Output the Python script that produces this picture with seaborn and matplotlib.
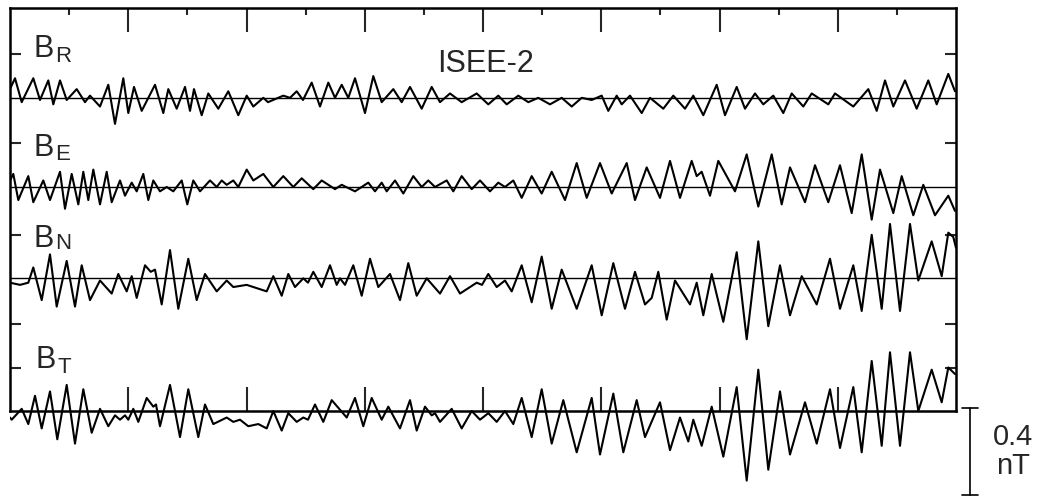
   #import libraries.
import numpy as np
import pandas as pd
import seaborn as sns
import matplotlib.pyplot as plt

sns.set_style('white')
plt.rcParams['font.family'] = ['Liberation Sans', 'DejaVu Sans']

   #wave readings (time in s, field in nT) - peaks and troughs.
b_r = [(0, 0.04), (5, 0.09), (11.7, -0.02), (23.3, 0.09), (30, -0.01), (38.3, 0.08), (43.3, -0.03),
       (50, 0.08), (56.7, -0.01), (66.7, 0.04), (75, -0.02), (80, 0.01), (90, -0.04), (98.3, 0.06),
       (105, -0.12), (113.3, 0.09), (118.3, -0.07), (124, 0.05), (131.7, -0.06), (145, 0.06),
       (153.3, -0.07), (158.3, 0.04), (166.7, -0.05), (175, 0.05), (180, -0.06), (184, 0.04),
       (191.7, -0.08), (198.3, 0.02), (208.3, -0.05), (218.3, 0.03), (228.3, -0.08), (236.7, 0.01),
       (243.3, -0.04), (253.3, 0.0), (258, -0.02), (273.3, 0.01), (280, 0.0), (286.7, 0.03),
       (293, -0.01), (301.7, 0.07), (310, -0.04), (318.3, 0.07), (325, 0.0), (331.7, 0.06),
       (338.3, 0.0), (345, 0.09), (355, -0.07), (363.3, 0.10), (371.7, -0.02), (383.3, 0.04),
       (391.7, -0.02), (400, 0.05), (411.7, -0.05), (421.7, 0.05), (430, -0.02), (440, 0.02),
       (451.7, -0.02), (466.7, 0.02), (478.3, -0.03), (488.3, 0.01), (496.7, -0.03), (508.3, 0.01),
       (518.3, -0.02), (528.3, 0.0), (540, -0.03), (551.7, 0.0), (561.7, -0.04), (571.7, 0.0),
       (581.7, -0.01), (591.7, 0.01), (598.3, -0.06), (606.7, 0.01), (611.7, -0.03), (620, 0.01),
       (631.7, -0.07), (640, 0.0), (653.3, -0.05), (663.3, 0.01), (675, -0.05), (683.3, 0.01),
       (693.3, -0.08), (706.7, 0.06), (715, -0.08), (726.7, 0.05), (735, -0.05), (745, 0.02),
       (753.3, -0.03), (763.3, 0.01), (773.3, -0.07), (781.7, 0.02), (793.3, -0.04), (801.7, 0.02),
       (818.3, -0.03), (825, 0.02), (843.3, -0.04), (858.3, 0.04), (866.7, -0.06), (875, 0.08),
       (883.3, -0.04), (895, 0.08), (906.7, -0.05), (918.3, 0.08), (926.7, -0.03), (938.3, 0.11),
       (945, 0.03)]

b_e = [(0, 0.03), (3.3, 0.06), (8.3, -0.06), (18.3, 0.05), (23.3, -0.07), (33.3, 0.03), (40, -0.06),
       (50, 0.07), (55, -0.10), (61.7, 0.06), (68.3, -0.08), (73.3, 0.07), (78.3, -0.06), (83.3, 0.08),
       (90, -0.08), (96.7, 0.07), (101.7, -0.07), (110, 0.03), (115, -0.04), (121.7, 0.02),
       (126.7, -0.02), (133.3, 0.06), (138.3, -0.06), (143.3, 0.03), (150, -0.02), (156.7, 0.0),
       (163.3, -0.02), (171.7, 0.03), (177.3, -0.08), (183.3, 0.03), (190, -0.02), (200, 0.03),
       (206.7, 0.0), (211.7, 0.03), (216.7, 0.01), (223.3, 0.03), (228.3, 0.0), (236.7, 0.08),
       (243.3, 0.03), (253.3, 0.06), (263.3, 0.0), (273.3, 0.05), (283.3, 0.0), (291.7, 0.04),
       (303.3, -0.01), (311.7, 0.03), (325, -0.01), (331.7, 0.01), (345, -0.02), (358.3, 0.02),
       (365, -0.02), (371.7, 0.02), (376.7, -0.02), (385, 0.03), (393.3, -0.03), (403.3, 0.05),
       (411.7, 0.0), (418.3, 0.03), (425, 0.0), (436.7, 0.03), (443.3, -0.02), (451.7, 0.05),
       (461.7, -0.01), (470, 0.03), (480, -0.02), (488.3, 0.02), (495, 0.0), (503.3, 0.03),
       (511.7, -0.05), (521.7, 0.05), (531.7, -0.03), (541.7, 0.07), (555, -0.06), (566.7, 0.11),
       (576.7, -0.05), (590, 0.11), (601.7, -0.03), (616.7, 0.11), (625, -0.06), (636.7, 0.09),
       (650, -0.05), (660, 0.12), (670, -0.05), (681.7, 0.12), (686.7, 0.05), (691.7, 0.07),
       (700, -0.04), (708.3, 0.12), (725, -0.02), (736.7, 0.15), (748.3, -0.09), (761.7, 0.15),
       (771.7, -0.08), (780, 0.09), (795, -0.07), (805, 0.10), (818.3, -0.07), (830, 0.10),
       (841.7, -0.12), (851.7, 0.15), (861.7, -0.15), (870, 0.08), (883.3, -0.12), (891.7, 0.05),
       (903.3, -0.13), (913.3, 0.01), (925, -0.13), (938.3, -0.04), (945, -0.11)]

b_n = [(0, -0.02), (10, -0.03), (18.3, -0.02), (23.3, 0.05), (31.7, -0.10), (40, 0.11), (46.7, -0.13),
       (56.7, 0.08), (65, -0.13), (71.7, 0.06), (80, -0.10), (90, -0.01), (101.7, -0.07), (108.3, 0.02),
       (116.7, -0.06), (121.7, 0.01), (126.7, -0.09), (135, 0.06), (140.7, 0.03), (145, 0.04),
       (151.7, -0.12), (160, 0.13), (168.3, -0.14), (178.3, 0.09), (186.7, -0.10), (195, 0.02),
       (206.7, -0.06), (216.7, -0.01), (223.3, -0.04), (236.7, -0.03), (256.7, -0.06), (263.3, 0.01),
       (271.7, -0.08), (278.3, 0.02), (285, -0.04), (293.3, 0.0), (298, -0.02), (303.3, 0.03),
       (311.7, -0.04), (320, 0.06), (326.7, -0.03), (330, 0.0), (335, -0.03), (343.3, 0.06),
       (351.7, -0.08), (360, 0.09), (368.3, -0.04), (380, 0.02), (390, -0.10), (398.3, 0.07),
       (406.7, -0.08), (416.7, 0.0), (430, -0.07), (440, 0.01), (450, -0.07), (466.7, -0.02),
       (472, -0.03), (478.3, 0.02), (486.7, -0.04), (495, -0.01), (501.7, -0.06), (511.7, 0.06),
       (521.7, -0.11), (531.7, 0.10), (541.7, -0.14), (551.7, 0.04), (566.7, -0.14), (581.7, 0.06),
       (591.7, -0.17), (603.3, 0.07), (615, -0.14), (625, 0.03), (635, -0.12), (641.7, -0.09),
       (648.3, 0.03), (656.7, -0.19), (665, -0.01), (680, -0.12), (686.7, -0.02), (693.3, -0.17),
       (701.7, 0.02), (713.3, -0.20), (726.7, 0.12), (736.7, -0.28), (748.3, 0.17), (758.3, -0.22),
       (770, 0.06), (780, -0.17), (791.7, 0.01), (806.7, -0.12), (820, 0.09), (830, -0.14),
       (843.3, 0.06), (851.7, -0.15), (861.7, 0.20), (871.7, -0.14), (880, 0.25), (890, -0.15),
       (900, 0.25), (908.3, -0.01), (921.7, 0.17), (931.7, 0.01), (938.3, 0.21), (943.3, 0.19),
       (946, 0.14)]

b_t = [(0, -0.03), (1.7, -0.04), (11.7, 0.01), (18.3, -0.06), (25, 0.07), (31.7, -0.08), (40, 0.09),
       (47.3, -0.13), (56.7, 0.12), (65, -0.15), (73.3, 0.10), (81.7, -0.10), (90, 0.01), (98.3, -0.07),
       (105, -0.02), (110, -0.04), (115, -0.02), (118.3, -0.04), (123.3, 0.01), (128.3, -0.05),
       (136.7, 0.06), (143.3, 0.02), (146, 0.03), (150, -0.07), (160, 0.12), (170, -0.12),
       (178.3, 0.10), (188.3, -0.12), (195, 0.03), (203.3, -0.06), (216.7, -0.03), (223.3, -0.05),
       (230, -0.04), (238.3, -0.07), (248.3, -0.06), (256.7, -0.08), (263.3, 0.0), (271.7, -0.09),
       (278.3, -0.01), (286.7, -0.05), (293.3, -0.03), (298, -0.04), (305, 0.03), (313.3, -0.05),
       (321.7, 0.05), (336.7, -0.03), (345, 0.06), (353.3, -0.07), (361.7, 0.06), (371.7, -0.04),
       (378.3, 0.02), (390, -0.08), (400, 0.05), (406.7, -0.09), (415, 0.02), (421.7, -0.02),
       (425, -0.01), (430, -0.05), (441.7, 0.01), (451.7, -0.08), (461.7, 0.0), (470, -0.04),
       (478.3, -0.01), (486.7, -0.05), (495, 0.0), (503.3, -0.06), (511.7, 0.06), (521.7, -0.12),
       (531.7, 0.10), (541.7, -0.15), (553.3, 0.05), (566.7, -0.19), (581.7, 0.06), (590, -0.20),
       (603.3, 0.08), (613.3, -0.19), (626.7, 0.05), (635, -0.12), (650, 0.04), (660, -0.18),
       (670, -0.03), (678.3, -0.14), (683.3, -0.04), (691.7, -0.16), (701.7, 0.02), (713.3, -0.21),
       (726.7, 0.11), (736.7, -0.32), (748.3, 0.19), (758.3, -0.27), (770, 0.09), (780, -0.20),
       (795, 0.04), (806.7, -0.15), (820, 0.10), (830, -0.17), (843.3, 0.11), (851.7, -0.19),
       (861.7, 0.23), (871.7, -0.16), (880, 0.27), (890, -0.16), (900, 0.27), (908.3, 0.0),
       (921.7, 0.19), (931.7, 0.04), (938.3, 0.20), (945, 0.17)]

components = ['R', 'E', 'N', 'T']
offsets = [1.44, 1.03, 0.61, 0.0]   #stacking offset of each trace (nT).
t_end = 946

   #one long data frame for seaborn.
frames = []
for comp, pts, off in zip(components, [b_r, b_e, b_n, b_t], offsets):
    df = pd.DataFrame(pts, columns=['t', 'nT'])
    df['comp'] = comp
    df['y'] = df['nT'] + off
    frames.append(df)
data = pd.concat(frames, ignore_index=True)

   #plot.
fig = plt.figure(figsize=(10.39, 4.98), dpi=100)
ax = fig.add_axes([10/1039, 0, 946/1039, 490/498])
sns.lineplot(data=data, x='t', y='y', units='comp', estimator=None, sort=False,
             color='black', lw=1.5, solid_joinstyle='round', ax=ax)
for off in offsets[:-1]:
    ax.axhline(off, color='black', lw=1.0)

ax.set_xlim(0, t_end)
ax.set_ylim(-0.40, 1.853)
ax.set_xlabel('')
ax.set_ylabel('')

   #frame: bottom line sits on the B_T zero line.
for s in ax.spines.values():
    s.set_linewidth(1.8)
    s.set_color('black')
ax.spines['bottom'].set_position(('data', 0))
ax.spines['left'].set_bounds(0, 1.853)
ax.spines['right'].set_bounds(0, 1.853)

ax.set_xticks(np.arange(2, 16, 2) * t_end / 16)
ax.set_xticks(np.arange(1, 16, 2) * t_end / 16, minor=True)
ax.tick_params(axis='x', which='major', direction='in', top=True, bottom=True,
               length=17, width=1.5, labelbottom=False)
ax.tick_params(axis='x', which='minor', direction='in', top=True, bottom=False,
               length=5, width=1.5)
ax.set_yticks([1.64, 1.23, 0.81, 0.40, 0.20])
ax.tick_params(axis='y', direction='in', left=True, right=True, length=8, width=1.5,
               labelleft=False)

   #labels.
labels = [(24, 1.628, 45, 1.605, 'R'), (24, 1.173, 45, 1.155, 'E'),
          (24, 0.754, 45, 0.745, 'N'), (26, 0.198, 48, 0.175, 'T')]
for bx, by, sx, sy, sub in labels:
    ax.text(bx, by, 'B', fontsize=22, va='baseline', ha='left')
    ax.text(sx, sy, sub, fontsize=16, va='baseline', ha='left')
ax.text(476, 1.56, 'ISEE-2', fontsize=22, va='baseline', ha='center')

   #scale bar 0.4 nT.
ax.plot([960, 960], [0.014, -0.386], color='black', lw=1.2, clip_on=False)
ax.plot([952, 968], [0.014, 0.014], color='black', lw=1.2, clip_on=False)
ax.plot([952, 968], [-0.386, -0.386], color='black', lw=1.2, clip_on=False)
ax.text(1003, -0.12, '0.4', fontsize=21, ha='center', va='center')
ax.text(1003, -0.255, 'nT', fontsize=21, ha='center', va='center')

plt.savefig('out.png', dpi=100)
